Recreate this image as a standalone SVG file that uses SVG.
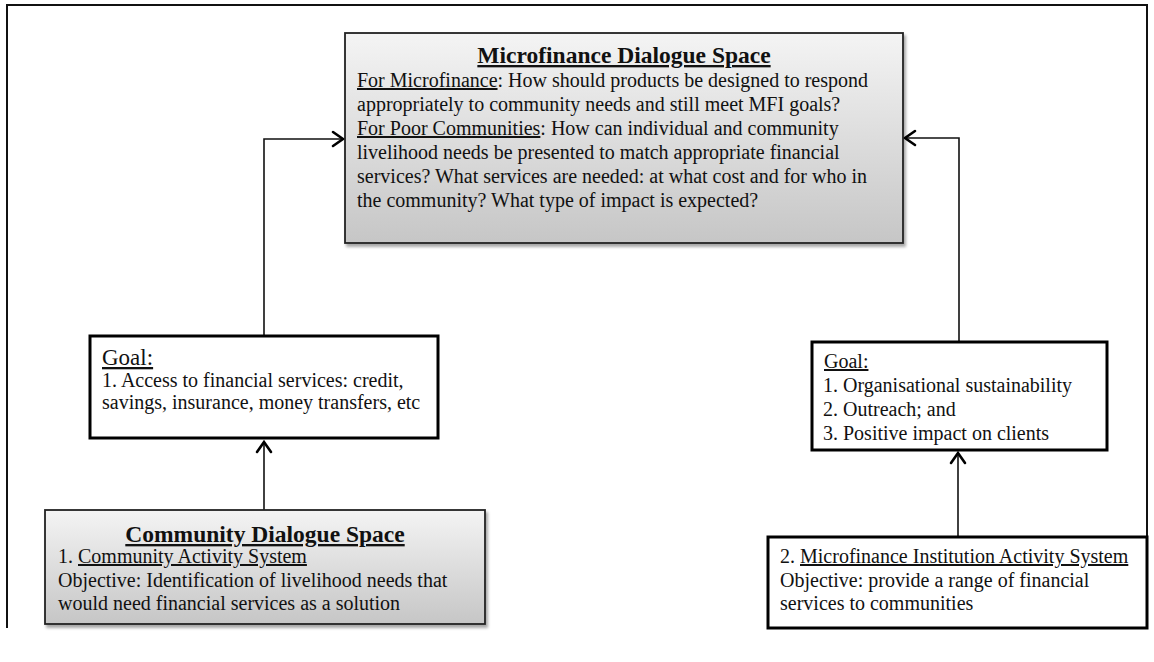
<svg xmlns="http://www.w3.org/2000/svg" width="1154" height="662" viewBox="0 0 1154 662">
<style>
text{font-family:"Liberation Serif","Times New Roman",serif;fill:#111;font-size:20px}
.t{font-weight:bold;font-size:23.5px;text-decoration:underline}
.u{text-decoration:underline}
.g1{font-size:23px;text-decoration:underline}
.g2{font-size:20px;text-decoration:underline}
.grad{fill:url(#gr);stroke:#222;stroke-width:1.8}
.thick{fill:#fff;stroke:#000;stroke-width:3}
.conn{fill:none;stroke:#111;stroke-width:1.6}
.head{fill:none;stroke:#000;stroke-width:2.6;stroke-linecap:round;stroke-linejoin:miter}
</style>
<defs>
<linearGradient id="gr" x1="0" y1="0" x2="0" y2="1">
<stop offset="0" stop-color="#f4f4f4"/>
<stop offset="1" stop-color="#c6c6c6"/>
</linearGradient>
<filter id="sh" x="-5%" y="-5%" width="115%" height="120%">
<feDropShadow dx="2" dy="3" stdDeviation="1.5" flood-color="#000" flood-opacity="0.35"/>
</filter>
</defs>
<path d="M7 628 V5 H1147 V628" fill="none" stroke="#111" stroke-width="2"/>
<g id="connectors">
<path class="conn" d="M264 336 V139 H343"/>
<path class="head" d="M333 132 L343 139 L333 146"/>
<path class="conn" d="M959 342 V138 H905"/>
<path class="head" d="M915 131 L905 138 L915 145"/>
<path class="conn" d="M264 510 V442"/>
<path class="head" d="M257 452 L264 442 L271 452"/>
<path class="conn" d="M958 537 V453"/>
<path class="head" d="M951 463 L958 453 L965 463"/>
</g>
<g id="microfinance-dialogue-space">
<rect class="grad" x="345" y="33" width="558" height="210" filter="url(#sh)"/>
<text class="t" x="624" y="63" text-anchor="middle">Microfinance Dialogue Space</text>
<text x="357" y="87"><tspan class="u">For Microfinance</tspan>: How should products be designed to respond</text>
<text x="357" y="111">appropriately to community needs and still meet MFI goals?</text>
<text x="357" y="135"><tspan class="u">For Poor Communities</tspan>: How can individual and community</text>
<text x="357" y="159">livelihood needs be presented to match appropriate financial</text>
<text x="357" y="183">services? What services are needed: at what cost and for who in</text>
<text x="357" y="207">the community? What type of impact is expected?</text>
</g>
<g id="community-goal">
<rect class="thick" x="90" y="336" width="348" height="102"/>
<text class="g1" x="102" y="365">Goal:</text>
<text x="102" y="387">1. Access to financial services: credit,</text>
<text x="102" y="409">savings, insurance, money transfers, etc</text>
</g>
<g id="mfi-goal">
<rect class="thick" x="812" y="342" width="295" height="108"/>
<text class="g2" x="824" y="368">Goal:</text>
<text x="823" y="392">1. Organisational sustainability</text>
<text x="823" y="416">2. Outreach; and</text>
<text x="823" y="440">3. Positive impact on clients</text>
</g>
<g id="community-dialogue-space">
<rect class="grad" x="45" y="510" width="440" height="114" filter="url(#sh)"/>
<text class="t" x="265" y="542" text-anchor="middle">Community Dialogue Space</text>
<text x="58" y="563">1. <tspan class="u">Community Activity System</tspan></text>
<text x="58" y="587">Objective: Identification of livelihood needs that</text>
<text x="58" y="610">would need financial services as a solution</text>
</g>
<g id="mfi-activity-system">
<rect class="thick" x="768" y="537" width="379" height="91"/>
<text x="780" y="563">2. <tspan class="u">Microfinance Institution Activity System</tspan></text>
<text x="780" y="587">Objective: provide a range of financial</text>
<text x="780" y="610">services to communities</text>
</g>
</svg>
